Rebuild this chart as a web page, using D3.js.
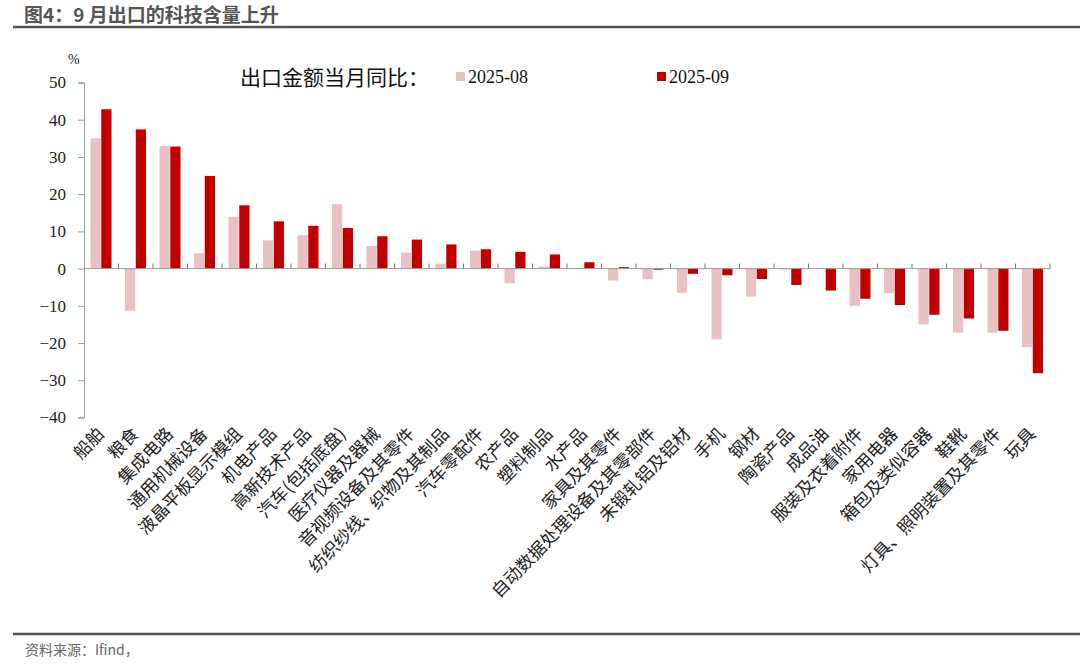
<!DOCTYPE html>
<html><head><meta charset="utf-8">
<script src="https://cdn.jsdelivr.net/npm/d3@7"></script>
<style>
html,body{margin:0;padding:0;background:#fff;}
svg{display:block;}
</style></head>
<body>
<svg id="chart" width="1080" height="666"></svg>
<script>
const categories = ["船舶","粮食","集成电路","通用机械设备","液晶平板显示模组","机电产品","高新技术产品","汽车(包括底盘)","医疗仪器及器械","音视频设备及其零件","纺织纱线、织物及其制品","汽车零配件","农产品","塑料制品","水产品","家具及其零件","自动数据处理设备及其零部件","未锻轧铝及铝材","手机","钢材","陶瓷产品","成品油","服装及衣着附件","家用电器","箱包及类似容器","鞋靴","灯具、照明装置及其零件","玩具"];
const seriesNames = ["2025-08","2025-09"];
const values0825 = [35.0,-11.3,32.9,4.1,13.9,7.6,9.0,17.3,6.1,4.3,1.3,4.8,-3.9,0.6,0.2,-3.2,-2.9,-6.5,-19.0,-7.5,-0.2,0,-10.0,-6.6,-15.0,-17.2,-17.2,-21.1];
const values0925 = [42.8,37.4,32.8,24.9,17.0,12.7,11.5,10.9,8.7,7.8,6.5,5.2,4.5,3.8,1.7,0.4,-0.3,-1.4,-1.8,-2.8,-4.4,-5.9,-8.1,-9.8,-12.4,-13.4,-16.7,-28.1];
const yTicks = [50,40,30,20,10,0,-10,-20,-30,-40];
const colors = ["#E9C1C2","#C00000"];

const svg = d3.select("#chart");
const serifNum = "'Liberation Serif','Times New Roman',serif";
const cjk = "'Noto Sans CJK SC','Noto Sans',sans-serif";

// title
svg.append("text").attr("x",24).attr("y",22).attr("font-family",cjk).attr("font-size",19)
  .attr("font-weight","bold").attr("fill","#555").text("图4：9 月出口的科技含量上升");
svg.append("line").attr("x1",13).attr("x2",1080).attr("y1",27).attr("y2",27).attr("stroke","#555").attr("stroke-width",2.5);
// footer
svg.append("line").attr("x1",13).attr("x2",1080).attr("y1",634).attr("y2",634).attr("stroke","#555").attr("stroke-width",2.5);
svg.append("text").attr("x",25).attr("y",655).attr("font-family",cjk).attr("font-size",14)
  .attr("fill","#666").text("资料来源：Ifind，");

const x = d3.scaleBand().domain(categories).range([84,1050]).padding(0);
const x1 = d3.scaleBand().domain(seriesNames).range([6.5,27.5]).paddingInner(0.05);
const y = d3.scaleLinear().domain([-40,50]).range([417.5,82.5]);

// y axis
const yAxis = d3.axisLeft(y).tickValues(yTicks).tickSize(6).tickPadding(12).tickFormat(d3.format("d"));
const gy = svg.append("g").attr("transform","translate(84,0)").call(yAxis);
gy.select(".domain").attr("stroke","#999");
gy.selectAll(".tick line").attr("stroke","#999");
gy.selectAll(".tick text").attr("font-family",serifNum).attr("font-size",17).attr("fill","#222");
svg.append("text").attr("x",68).attr("y",64).attr("font-family",serifNum).attr("font-size",14).attr("fill","#222").text("%");

// bars
const data = categories.map((c,i)=>({c, vals:[values0825[i],values0925[i]]}));
const groups = svg.append("g").selectAll("g").data(data).join("g")
  .attr("transform",d=>`translate(${x(d.c)},0)`);
groups.selectAll("rect").data(d=>d.vals.map((v,j)=>({v,s:seriesNames[j],j}))).join("rect")
  .attr("x",d=>x1(d.s)).attr("width",x1.bandwidth())
  .attr("y",d=>y(Math.max(0,d.v))).attr("height",d=>Math.abs(y(d.v)-y(0)))
  .attr("fill",d=>colors[d.j]);

// x axis (zero line) with ticks at boundaries pointing up
svg.append("line").attr("x1",84).attr("x2",1050).attr("y1",y(0)).attr("y2",y(0)).attr("stroke","#999").attr("stroke-width",1);
const bounds = categories.map(c=>x(c)+x.bandwidth());
svg.append("g").selectAll("line").data(bounds).join("line")
  .attr("x1",d=>d).attr("x2",d=>d).attr("y1",y(0)).attr("y2",y(0)-5).attr("stroke","#777");

// x labels
svg.append("g").selectAll("text").data(categories).join("text")
  .attr("transform",d=>`translate(${x(d)+x.bandwidth()/2+4},${435}) rotate(-46)`)
  .attr("text-anchor","end").attr("font-family",cjk).attr("font-size",17.5).attr("fill","#222")
  .text(d=>d);

// legend
svg.append("text").attr("x",240).attr("y",85).attr("font-family",cjk).attr("font-size",21).attr("fill","#111").text("出口金额当月同比：");
const legX = [456,657];
seriesNames.forEach((s,i)=>{
  svg.append("rect").attr("x",legX[i]).attr("y",72).attr("width",9).attr("height",9).attr("fill",colors[i]);
  svg.append("text").attr("x",legX[i]+12).attr("y",83).attr("font-family",serifNum).attr("font-size",18).attr("fill","#111").text(s);
});
</script>
</body></html>
